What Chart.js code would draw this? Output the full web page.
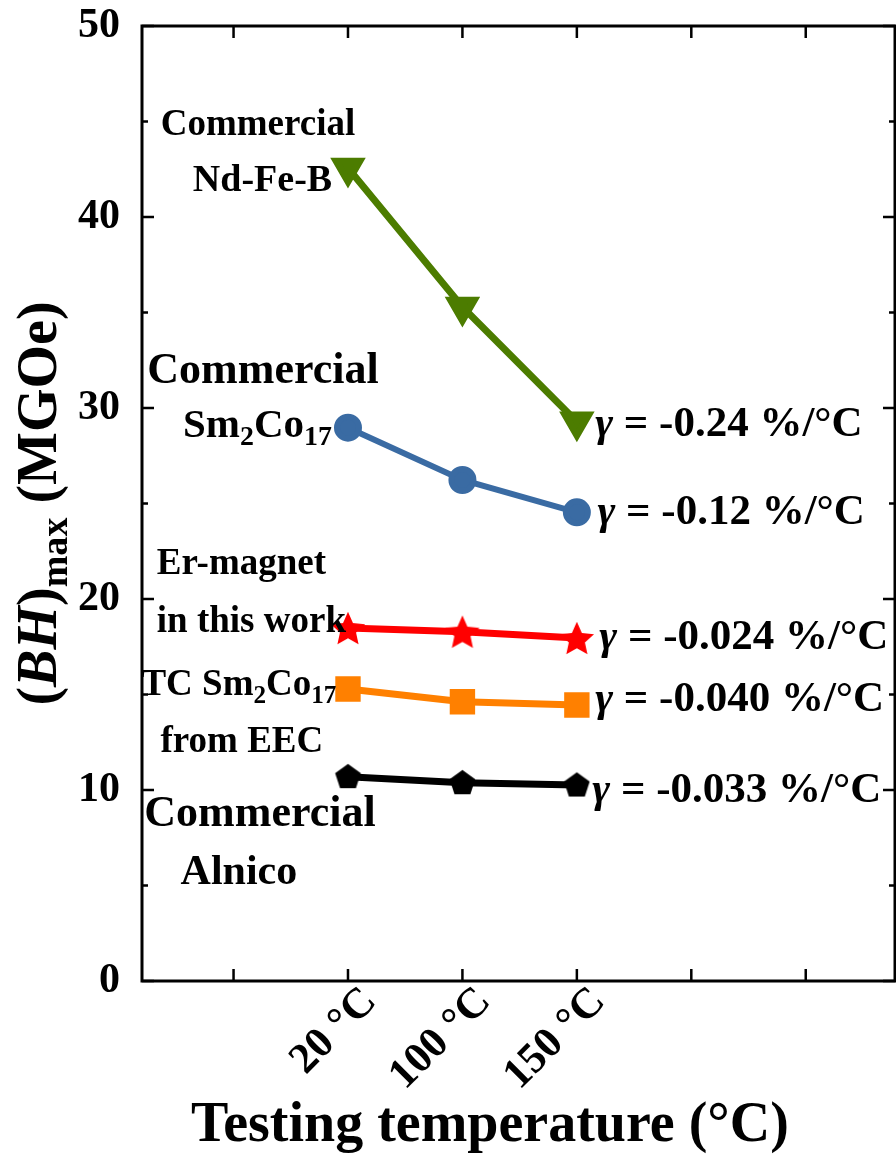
<!DOCTYPE html>
<html>
<head>
    <title>(BH)max vs testing temperature</title>
    <style>
        body { margin: 0; background: #ffffff; }
        #chart { display: block; }
    </style>
    <script src="https://cdn.jsdelivr.net/npm/chart.js"></script>
</head>
<body>
    <canvas id="chart" width="896" height="1154"></canvas>
    <script>
        // data, (BH)max in MGOe
        const temps = ['20 \u00B0C', '100 \u00B0C', '150 \u00B0C'];
        const ndFeB = [42.57, 35.29, 29.28];
        const smCo = [28.97, 26.23, 24.54];
        const erMagnet = [18.48, 18.29, 17.96];
        const tcSmCo = [15.29, 14.62, 14.45];
        const alnico = [10.70, 10.38, 10.26];
        const yTicks = [0, 10, 20, 30, 40, 50];

        const FAM = '"Liberation Serif", "Times New Roman", serif';

        // text notes, placed in axis units (x: category slot, y: MGOe)
        const notes = [
            { x: 0.213, y: 44.92, size: 37, align: 'center', segs: [['Commercial']] },
            { x: 0.253, y: 42.04, size: 38, align: 'center', segs: [['Nd-Fe-B']] },
            { x: 0.257, y: 32.09, size: 44, align: 'center', segs: [['Commercial']] },
            { x: 0.209, y: 29.21, size: 41, align: 'center', segs: [['Sm'], ['2', 'sub'], ['Co'], ['17', 'sub']] },
            { x: 0.069, y: 21.94, size: 37, align: 'center', segs: [['Er-magnet']] },
            { x: 0.156, y: 18.90, size: 37, align: 'center', segs: [['in this work']] },
            { x: 0.047, y: 15.60, size: 37, align: 'center', segs: [['TC Sm'], ['2', 'sub'], ['Co'], ['17', 'sub']] },
            { x: 0.073, y: 12.62, size: 37, align: 'center', segs: [['from EEC']] },
            { x: 0.231, y: 8.85, size: 44, align: 'center', segs: [['Commercial']] },
            { x: 0.047, y: 5.81, size: 42, align: 'center', segs: [['Alnico']] },
            { x: 3.160, y: 29.30, size: 43, align: 'left', segs: [['\u03B3', 'i'], [' = -0.24 %/\u00B0C']] },
            { x: 3.180, y: 24.66, size: 43, align: 'left', segs: [['\u03B3', 'i'], [' = -0.12 %/\u00B0C']] },
            { x: 3.196, y: 18.12, size: 43, align: 'left', segs: [['\u03B3', 'i'], [' = -0.024 %/\u00B0C']] },
            { x: 3.160, y: 14.88, size: 43, align: 'left', segs: [['\u03B3', 'i'], [' = -0.040 %/\u00B0C']] },
            { x: 3.135, y: 10.10, size: 43, align: 'left', segs: [['\u03B3', 'i'], [' = -0.033 %/\u00B0C']] }
        ];

        function drawRich(ctx, segs, x, y, size, align) {
            const parts = segs.map(([t, st]) => {
                const fs = st === 'sub' ? size * 0.68 : size;
                const font = (st === 'i' ? 'italic ' : '') + 'bold ' + fs + 'px ' + FAM;
                ctx.font = font;
                return { t, font, w: ctx.measureText(t).width, dy: st === 'sub' ? size * 0.2 : 0 };
            });
            const total = parts.reduce((a, p) => a + p.w, 0);
            let cx = align === 'center' ? x - total / 2 : x;
            ctx.textAlign = 'left';
            ctx.textBaseline = 'alphabetic';
            parts.forEach(p => {
                ctx.font = p.font;
                ctx.fillText(p.t, cx, y + p.dy);
                cx += p.w;
            });
        }

        function makeMarker(kind, color, r) {
            const c = document.createElement('canvas');
            const s = Math.ceil(r * 2 + 2);
            c.width = s; c.height = s;
            const g = c.getContext('2d');
            g.fillStyle = color;
            g.beginPath();
            const n = kind === 'star' ? 10 : 5;
            for (let i = 0; i < n; i++) {
                const a = -Math.PI / 2 + i * 2 * Math.PI / n;
                const rr = (kind === 'star' && i % 2) ? r * 0.47 : r;
                const px = s / 2 + Math.cos(a) * rr, py = s / 2 + Math.sin(a) * rr + (kind === 'star' ? r * 0.1 : r * 0.05);
                if (i === 0) g.moveTo(px, py); else g.lineTo(px, py);
            }
            g.closePath();
            g.fill();
            return c;
        }

        const toXY = arr => arr.map((v, i) => ({ x: i + 1, y: v }));

        const framePlugin = {
            id: 'frame',
            afterDatasetsDraw(chart) {
                const ctx = chart.ctx;
                const a = chart.chartArea;
                const xs = chart.scales.x, ys = chart.scales.y;
                ctx.save();
                ctx.strokeStyle = '#000';
                ctx.lineWidth = 3;
                ctx.strokeRect(a.left, a.top, a.right - a.left, a.bottom - a.top);
                ctx.lineWidth = 2.5;
                ctx.beginPath();
                for (let v = 0; v <= 5; v++) {
                    const px = xs.getPixelForValue(v);
                    ctx.moveTo(px, a.bottom); ctx.lineTo(px, a.bottom - 12);
                    ctx.moveTo(px, a.top); ctx.lineTo(px, a.top + 12);
                }
                for (let v = 0; v <= 50; v += 5) {
                    const py = ys.getPixelForValue(v);
                    const len = v % 10 === 0 ? 12 : 6;
                    ctx.moveTo(a.left, py); ctx.lineTo(a.left + len, py);
                    ctx.moveTo(a.right, py); ctx.lineTo(a.right - len, py);
                }
                ctx.stroke();

                ctx.fillStyle = '#000';
                notes.forEach(n => {
                    const px = xs.getPixelForValue(n.x);
                    const py = ys.getPixelForValue(n.y) + n.size * 0.33;
                    drawRich(ctx, n.segs, px, py, n.size, n.align);
                });

                // axis titles
                drawRich(ctx, [['Testing temperature (\u00B0C)']], xs.getPixelForValue(2.24), 1141, 56, 'center');
                ctx.translate(a.left - 86, (a.top + a.bottom) / 2);
                ctx.rotate(-Math.PI / 2);
                drawRich(ctx, [['('], ['BH', 'i'], [')'], ['max', 'sub'], [' (MGOe)']], 0, 0, 56, 'center');
                ctx.restore();
            }
        };

        const ctx = document.getElementById('chart').getContext('2d');
        new Chart(ctx, {
            type: 'line',
            data: {
                datasets: [
                    {
                        label: 'Commercial Nd-Fe-B', data: toXY(ndFeB),
                        borderColor: '#4c7c00', backgroundColor: '#4c7c00', borderWidth: 7,
                        pointStyle: 'triangle', rotation: 180, pointRadius: 13.5
                    },
                    {
                        label: 'Commercial Sm2Co17', data: toXY(smCo),
                        borderColor: '#3a6ba3', backgroundColor: '#3a6ba3', borderWidth: 6,
                        pointStyle: 'circle', pointRadius: 11
                    },
                    {
                        label: 'Er-magnet', data: toXY(erMagnet),
                        borderColor: '#ff0000', backgroundColor: '#ff0000', borderWidth: 7,
                        pointStyle: makeMarker('star', '#ff0000', 18)
                    },
                    {
                        label: 'TC Sm2Co17 from EEC', data: toXY(tcSmCo),
                        borderColor: '#ff8000', backgroundColor: '#ff8000', borderWidth: 7,
                        pointStyle: 'rect', pointRadius: 13
                    },
                    {
                        label: 'Commercial Alnico', data: toXY(alnico),
                        borderColor: '#000000', backgroundColor: '#000000', borderWidth: 7,
                        pointStyle: makeMarker('pentagon', '#000000', 13.5)
                    }
                ]
            },
            options: {
                responsive: false,
                animation: false,
                layout: { autoPadding: false, padding: { top: 26, right: 1, left: 0, bottom: 0 } },
                elements: { line: { tension: 0 }, point: { borderWidth: 0, hoverRadius: 12 } },
                plugins: { legend: { display: false }, tooltip: { enabled: false } },
                scales: {
                    x: {
                        type: 'linear', min: -0.8, max: 5.78,
                        afterFit: s => { s.height = 173; s.paddingLeft = 0; s.paddingRight = 0; },
                        grid: { display: false },
                        border: { display: false },
                        ticks: {
                            stepSize: 1, includeBounds: false,
                            minRotation: 45, maxRotation: 45,
                            padding: -12, labelOffset: 22,
                            color: '#000',
                            font: { family: FAM, size: 43, weight: 'bold' },
                            callback: v => (Number.isInteger(v) && v >= 1 && v <= temps.length) ? temps[v - 1] : ''
                        }
                    },
                    y: {
                        min: 0, max: 50,
                        afterFit: s => { s.width = 142; s.paddingTop = 0; s.paddingBottom = 0; },
                        afterBuildTicks: s => { s.ticks = yTicks.map(v => ({ value: v })); },
                        grid: { display: false },
                        border: { display: false },
                        ticks: {
                            padding: 14,
                            color: '#000',
                            font: { family: FAM, size: 42, weight: 'bold' }
                        }
                    }
                }
            },
            plugins: [framePlugin]
        });
    </script>
</body>
</html>
